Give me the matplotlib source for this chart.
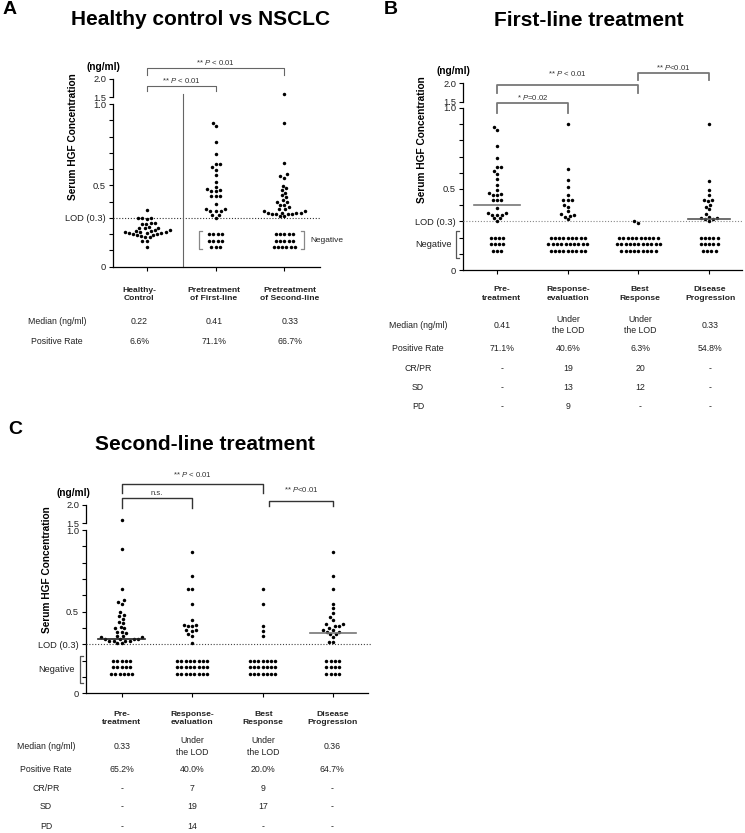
import numpy as np
import matplotlib
matplotlib.use("Agg")
import matplotlib.pyplot as plt

plt.rcParams["font.family"] = ["Liberation Sans", "DejaVu Sans"]
plt.rcParams["mathtext.fontset"] = "custom"
plt.rcParams["mathtext.rm"] = "Liberation Sans"
plt.rcParams["mathtext.it"] = "Liberation Sans:italic"

W, H = 745, 833

# ── data (ng/ml) ─────────────────────────────────────────────────────
lod = 0.3
neg_levels = [0.20, 0.16, 0.12]   # rows used to show "under LOD" samples

hc_vals = [0.35, 0.30, 0.30, 0.30, 0.295, 0.27, 0.27, 0.265, 0.265,
           0.245, 0.24, 0.24, 0.235, 0.225, 0.225, 0.22, 0.22, 0.215,
           0.215, 0.215, 0.21, 0.21, 0.21, 0.20, 0.20, 0.195, 0.195,
           0.19, 0.18, 0.18, 0.155, 0.155, 0.12]

pre1_vals = [0.885, 0.864, 0.765, 0.693, 0.634, 0.634, 0.613, 0.595,
             0.562, 0.523, 0.492, 0.475, 0.47, 0.465, 0.465, 0.432,
             0.432, 0.432, 0.383, 0.354, 0.354, 0.342, 0.342, 0.342,
             0.319, 0.319, 0.302]
pre1_neg = [4, 4, 3]

pre2_vals = [1.6, 0.886, 0.639, 0.569, 0.557, 0.547, 0.499, 0.481,
             0.471, 0.455, 0.439, 0.428, 0.408, 0.398, 0.398, 0.378,
             0.378, 0.368, 0.352, 0.352, 0.343, 0.343, 0.333, 0.333,
             0.333, 0.333, 0.323, 0.323, 0.323, 0.323, 0.31, 0.31]
pre2_neg = [5, 5, 6]

# first-line
b_resp_vals = [0.901, 0.623, 0.553, 0.512, 0.461, 0.432, 0.432, 0.432,
               0.401, 0.391, 0.362, 0.345, 0.34, 0.335, 0.33, 0.312]
b_resp_neg = [9, 10, 9]
b_best_vals = [0.302, 0.292]
b_best_neg = [10, 11, 9]
b_dp_vals = [0.901, 0.551, 0.492, 0.461, 0.435, 0.432, 0.428, 0.403,
             0.391, 0.374, 0.345, 0.33, 0.321, 0.321, 0.313, 0.313, 0.302]
b_dp_neg = [5, 5, 4]
b_median_lines = [0.40, None, None, 0.315]

# second-line
c_resp_vals = [0.867, 0.718, 0.639, 0.639, 0.549, 0.449, 0.42, 0.42,
               0.41, 0.41, 0.385, 0.385, 0.38, 0.363, 0.35, 0.31]
c_resp_neg = [8, 8, 8]
c_best_vals = [0.639, 0.549, 0.412, 0.382, 0.352]
c_best_neg = [7, 7, 7]
c_dp_vals = [0.867, 0.718, 0.639, 0.549, 0.52, 0.49, 0.469, 0.449,
             0.422, 0.422, 0.412, 0.412, 0.402, 0.388, 0.388, 0.378,
             0.378, 0.363, 0.363, 0.343, 0.314, 0.314]
c_dp_neg = [4, 4, 4]
c_median_lines = [0.333, None, None, 0.367]

# tables
a_headers = ["Healthy-\nControl", "Pretreatment\nof First-line", "Pretreatment\nof Second-line"]
a_median = ["0.22", "0.41", "0.33"]
a_posrate = ["6.6%", "71.1%", "66.7%"]

bc_headers = ["Pre-\ntreatment", "Response-\nevaluation", "Best\nResponse", "Disease\nProgression"]
b_median = ["0.41", "Under\nthe LOD", "Under\nthe LOD", "0.33"]
b_posrate = ["71.1%", "40.6%", "6.3%", "54.8%"]
b_crpr = ["-", "19", "20", "-"]
b_sd = ["-", "13", "12", "-"]
b_pd = ["-", "9", "-", "-"]

c_median = ["0.33", "Under\nthe LOD", "Under\nthe LOD", "0.36"]
c_posrate = ["65.2%", "40.0%", "20.0%", "64.7%"]
c_crpr = ["-", "7", "9", "-"]
c_sd = ["-", "19", "17", "-"]
c_pd = ["-", "14", "-", "-"]


# ── helpers ──────────────────────────────────────────────────────────
def disp(v):
    # broken axis: linear to 1.0, then 1.5-2.0 squeezed above
    return v if v <= 1 else 1.04 + (v - 1.5) * 0.228


def swarm_offsets(vals, ppu, d=4.3):
    ys = [disp(v) * ppu for v in vals]
    xs = np.zeros(len(vals))
    placed = []
    for i in np.argsort(ys, kind="stable"):
        y = ys[i]
        ivs = []
        for px_, py_ in placed:
            dy = abs(y - py_)
            if dy < d:
                w = np.sqrt(d * d - dy * dy)
                ivs.append((px_ - w, px_ + w))
        cands = sorted([0.0] + [e for iv in ivs for e in iv], key=abs)
        for c in cands:
            if all(not (lo + 1e-6 < c < hi - 1e-6) for lo, hi in ivs):
                xs[i] = c
                break
        placed.append((xs[i], y))
    return xs


def fig_text(x, y, s, **kw):
    kw.setdefault("ha", "center")
    kw.setdefault("va", "center")
    kw.setdefault("color", "#222222")
    fig.text(x / W, 1 - y / H, s, **kw)


def make_axes(left, right, y0, ppu, cat0, sp, ncat, ytop=1.154):
    ax = fig.add_axes([left / W, 1 - y0 / H, (right - left) / W, ytop * ppu / H])
    ax.set_xlim((left - cat0) / sp, (right - cat0) / sp)
    ax.set_ylim(0, ytop)
    ax.patch.set_alpha(0)
    for s in ["top", "right", "left"]:
        ax.spines[s].set_visible(False)
    ax.spines["bottom"].set_linewidth(0.9)
    x0 = ax.get_xlim()[0]
    ax.plot([x0, x0], [0, 1.0], color="black", lw=0.9, clip_on=False)
    ax.plot([x0, x0], [1.04, 1.154], color="black", lw=0.9, clip_on=False)
    ax.set_yticks([0, lod, 0.5, 1.0, 1.04, 1.154],
                  ["0", "LOD (0.3)", "0.5", "1.0", "1.5", "2.0"])
    ax.set_yticks([0.1, 0.2, 0.4, 0.6, 0.7, 0.8, 0.9], minor=True)
    ax.tick_params(axis="y", which="both", length=3, width=0.8,
                   labelsize=6.7, pad=2, labelcolor="#222222")
    ax.set_xticks(range(ncat))
    ax.tick_params(axis="x", length=3, width=0.8, labelbottom=False)
    return ax


def draw_col(ax, i, vals, neg_rows, ppu, sp):
    offs = swarm_offsets(vals, ppu)
    ax.plot(i + offs / sp, [disp(v) for v in vals], "o", color="black",
            ms=2.5, mew=0, clip_on=False)
    for lev, n in zip(neg_levels, neg_rows):
        xs = i + (np.arange(n) - (n - 1) / 2) * 4.3 / sp
        ax.plot(xs, [lev] * n, "o", color="black", ms=2.5, mew=0, clip_on=False)


def bracket(ax, x1, x2, y, bottom, label, ty, color, lw, fs=5.6):
    ax.plot([x1, x1, x2, x2], [bottom, y, y, bottom], color=color, lw=lw,
            clip_on=False)
    ax.text((x1 + x2) / 2, ty, label, ha="center", va="center",
            fontsize=fs, color="#333333")


def median_line(ax, i, m, half, color):
    if m is not None:
        ax.plot([i - half, i + half], [m, m], color=color, lw=1.2, clip_on=False)


def lod_line(ax, color, right=None):
    x0, x1 = ax.get_xlim()
    ax.plot([x0, x1 if right is None else right], [lod, lod], color=color,
            lw=0.8, ls=(0, (1, 1.6)), clip_on=False)


def neg_bracket(ax, x, top, bot, hook, color="#555555"):
    ax.plot([x + hook, x, x, x + hook], [top, top, bot, bot], color=color,
            lw=0.9, clip_on=False)


fig = plt.figure(figsize=(W / 100, H / 100), dpi=100)

# ── A: Healthy control vs NSCLC ──────────────────────────────────────
ppu_a, sp_a = 162.7, 68.8
ax = make_axes(113, 320, 266.7, ppu_a, 146.7, sp_a, 3)
lod_line(ax, "#333333")
draw_col(ax, 0, hc_vals, [], ppu_a, sp_a)
draw_col(ax, 1, pre1_vals, pre1_neg, ppu_a, sp_a)
draw_col(ax, 2, pre2_vals, pre2_neg, ppu_a, sp_a)
ax.plot([0.528, 0.528], [0, 1.06], color="#666666", lw=0.8, clip_on=False)
bracket(ax, 0, 2, 1.221, 1.178, r"** $\mathit{P}$ < 0.01", 1.253, "#666666", 0.8)
bracket(ax, 0, 1, 1.11, 1.082, r"** $\mathit{P}$ < 0.01", 1.147, "#666666", 0.8)
neg_bracket(ax, 0.76, 0.219, 0.107, 0.045, "#888888")
neg_bracket(ax, 2.29, 0.219, 0.107, -0.045, "#888888")
fig_text(310, 240.7, "Negative", ha="left", fontsize=6)

fig_text(10, 10, "A", fontsize=14, fontweight="bold", color="black")
fig_text(201, 19.5, "Healthy control vs NSCLC", fontsize=15, fontweight="bold", color="black")
fig_text(103, 67, "(ng/ml)", fontsize=7.3, fontweight="bold", color="black")
fig_text(73, 137, "Serum HGF Concentration", fontsize=7.3, fontweight="bold",
         rotation=90, color="black")

a_cols = [139, 214, 290]
for x, h, m, p in zip(a_cols, a_headers, a_median, a_posrate):
    fig_text(x, 294.7, h, fontsize=6.1, fontweight="bold", linespacing=1.2)
    fig_text(x, 321.7, m, fontsize=6.3)
    fig_text(x, 341.7, p, fontsize=6.3)
fig_text(57, 321.7, "Median (ng/ml)", fontsize=6.3)
fig_text(57, 341.7, "Positive Rate", fontsize=6.3)

# ── B: First-line treatment ──────────────────────────────────────────
ppu_b, sp_b = 162.0, 70.7
ax = make_axes(463, 742, 270, ppu_b, 497, sp_b, 4)
lod_line(ax, "#888888")
draw_col(ax, 0, pre1_vals, pre1_neg, ppu_b, sp_b)
draw_col(ax, 1, b_resp_vals, b_resp_neg, ppu_b, sp_b)
draw_col(ax, 2, b_best_vals, b_best_neg, ppu_b, sp_b)
draw_col(ax, 3, b_dp_vals, b_dp_neg, ppu_b, sp_b)
median_line(ax, 0, b_median_lines[0], 0.325, "#777777")
median_line(ax, 3, b_median_lines[3], 0.30, "#555555")
bracket(ax, 0, 1, 1.029, 0.967, r"* $\mathit{P}$=0.02", 1.064, "#777777", 1.3)
bracket(ax, 0, 2, 1.142, 1.09, r"** $\mathit{P}$ < 0.01", 1.21, "#777777", 1.3)
bracket(ax, 2, 3, 1.214, 1.173, r"** $\mathit{P}$<0.01", 1.249, "#777777", 1.3)
neg_bracket(ax, -0.58, 0.24, 0.074, 0.04)
fig_text(452, 244.3, "Negative", ha="right", fontsize=6.7)

fig_text(391, 10, "B", fontsize=14, fontweight="bold", color="black")
fig_text(589, 20, "First-line treatment", fontsize=15, fontweight="bold", color="black")
fig_text(453, 71, "(ng/ml)", fontsize=7.3, fontweight="bold", color="black")
fig_text(422, 140, "Serum HGF Concentration", fontsize=7.3, fontweight="bold",
         rotation=90, color="black")

b_cols = [501.7, 568, 640, 710]
b_rows = [325, 348.3, 368.3, 387.3, 406.7]
for j, x in enumerate(b_cols):
    fig_text(x, 294, bc_headers[j], fontsize=6.1, fontweight="bold", linespacing=1.3)
    for y, col in zip(b_rows, [b_median, b_posrate, b_crpr, b_sd, b_pd]):
        fig_text(x, y, col[j], fontsize=6.3, linespacing=1.4)
for y, lab in zip(b_rows, ["Median (ng/ml)", "Positive Rate", "CR/PR", "SD", "PD"]):
    fig_text(418, y, lab, fontsize=6.3)

# ── C: Second-line treatment ─────────────────────────────────────────
ppu_c, sp_c = 163.3, 70.4
ax = make_axes(86, 368, 693.3, ppu_c, 121.7, sp_c, 4)
lod_line(ax, "#444444", right=(372 - 121.7) / sp_c)
draw_col(ax, 0, pre2_vals, pre2_neg, ppu_c, sp_c)
draw_col(ax, 1, c_resp_vals, c_resp_neg, ppu_c, sp_c)
draw_col(ax, 2, c_best_vals, c_best_neg, ppu_c, sp_c)
draw_col(ax, 3, c_dp_vals, c_dp_neg, ppu_c, sp_c)
median_line(ax, 0, c_median_lines[0], 0.33, "#222222")
median_line(ax, 3, c_median_lines[3], 0.33, "#777777")
bracket(ax, 0, 1, 1.194, 1.137, "n.s.", 1.225, "#333333", 1.0)
bracket(ax, 0, 2, 1.28, 1.228, r"** $\mathit{P}$ < 0.01", 1.341, "#333333", 1.0)
bracket(ax, 2.09, 3, 1.176, 1.150, r"** $\mathit{P}$<0.01", 1.245, "#333333", 1.0)
neg_bracket(ax, -0.59, 0.228, 0.063, 0.04)
fig_text(75, 669.3, "Negative", ha="right", fontsize=6.7)

fig_text(15, 429.5, "C", fontsize=14, fontweight="bold", color="black")
fig_text(205, 445, "Second-line treatment", fontsize=15, fontweight="bold", color="black")
fig_text(73, 492.7, "(ng/ml)", fontsize=7.3, fontweight="bold", color="black")
fig_text(46.7, 570, "Serum HGF Concentration", fontsize=7.3, fontweight="bold",
         rotation=90, color="black")

c_cols = [121.7, 192.3, 263.3, 332.3]
c_rows = [746.7, 769.3, 788.3, 806.7, 826.7]
for j, x in enumerate(c_cols):
    fig_text(x, 718.3, bc_headers[j], fontsize=6.1, fontweight="bold", linespacing=1.3)
    for y, col in zip(c_rows, [c_median, c_posrate, c_crpr, c_sd, c_pd]):
        fig_text(x, y, col[j], fontsize=6.3, linespacing=1.4)
for y, lab in zip(c_rows, ["Median (ng/ml)", "Positive Rate", "CR/PR", "SD", "PD"]):
    fig_text(46, y, lab, fontsize=6.3)

fig.savefig("out.png", dpi=100)
